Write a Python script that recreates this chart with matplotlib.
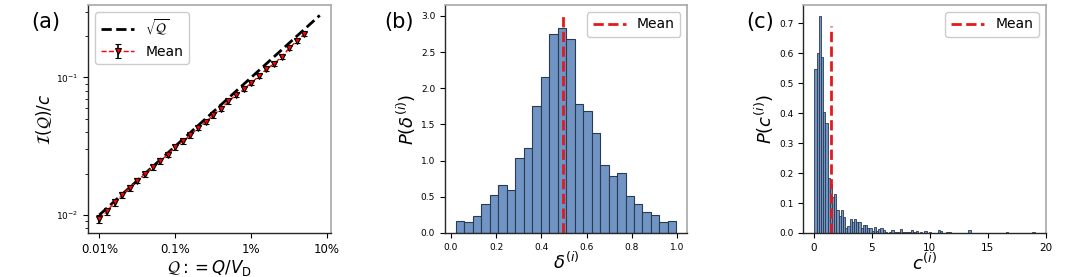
import matplotlib
matplotlib.use("Agg")
import matplotlib.pyplot as plt
import numpy as np

# ---------------- data ----------------
# panel (a)
Q_vals = [1.000e-4, 1.259e-4, 1.585e-4, 1.995e-4, 2.512e-4, 3.162e-4, 3.981e-4,
          5.012e-4, 6.310e-4, 7.943e-4, 1.000e-3, 1.259e-3, 1.585e-3, 1.995e-3,
          2.512e-3, 3.162e-3, 3.981e-3, 5.012e-3, 6.310e-3, 7.943e-3, 1.000e-2,
          1.259e-2, 1.585e-2, 1.995e-2, 2.512e-2, 3.162e-2, 3.981e-2, 5.012e-2]
mean_vals = [0.0094, 0.0106, 0.0124, 0.0139, 0.0158, 0.0178, 0.0198, 0.0222,
             0.0247, 0.0275, 0.0311, 0.0344, 0.0380, 0.0429, 0.0474, 0.0531,
             0.0593, 0.0669, 0.0743, 0.0820, 0.0910, 0.1021, 0.1146, 0.1258,
             0.1411, 0.1627, 0.1845, 0.2071]
err_vals = [0.0006, 0.0006, 0.0007, 0.0007, 0.0008, 0.0008, 0.0009, 0.0010,
            0.0011, 0.0012, 0.0013, 0.0014, 0.0015, 0.0016, 0.0018, 0.0020,
            0.0022, 0.0024, 0.0026, 0.0029, 0.0032, 0.0035, 0.0039, 0.0043,
            0.0048, 0.0053, 0.0059, 0.0066]
sqrt_Q_range = [1e-4, 0.08]
sqrt_Q_line = [0.01, 0.2828]
a_xticks = [1e-4, 1e-3, 1e-2, 1e-1]
a_xticklabels = ["0.01%", "0.1%", "1%", "10%"]

# panel (b): histogram of delta^(i)
b_bin_start = 0.022
b_bin_width = 0.0375
b_heights = [0.17, 0.15, 0.23, 0.40, 0.53, 0.66, 0.60, 1.04, 1.17, 1.75, 2.15,
             2.75, 2.83, 2.68, 1.78, 1.68, 1.38, 0.94, 0.79, 0.83, 0.51, 0.40,
             0.29, 0.25, 0.15, 0.17]
b_mean = 0.497
b_mean_top = 3.0

# panel (c): histogram of c^(i)
c_bin_start = 0.03
c_bin_width = 0.19
c_heights = [0.547, 0.600, 0.725, 0.589, 0.404, 0.366, 0.184, 0.162, 0.120, 0.130,
             0.078, 0.056, 0.075, 0.054, 0.015, 0.022, 0.047, 0.036, 0.047, 0.038,
             0.038, 0.018, 0.025, 0.028, 0.018, 0.018, 0.008, 0.021, 0.005, 0.012,
             0.018, 0.009, 0.004, 0.000, 0.003, 0.011, 0.003, 0.003, 0.004, 0.014,
             0.003, 0.003, 0.003, 0.003, 0.011, 0.003, 0.008, 0.000, 0.003, 0.000,
             0.008, 0.000, 0.003, 0.000, 0.000, 0.000, 0.011, 0.007, 0.000, 0.000,
             0.004, 0.004, 0.000, 0.000, 0.000, 0.000, 0.000, 0.000, 0.000, 0.000,
             0.011, 0.000, 0.000, 0.000, 0.000, 0.000, 0.000, 0.000, 0.000, 0.000,
             0.000, 0.000, 0.000, 0.000, 0.000, 0.000, 0.000, 0.003, 0.000, 0.000,
             0.000, 0.000, 0.000, 0.000, 0.000, 0.000, 0.000, 0.000, 0.000, 0.003]
c_mean = 1.50
c_mean_top = 0.69

# ---------------- style ----------------
plt.rcParams['font.family'] = ['DejaVu Sans']
plt.rcParams['mathtext.fontset'] = 'dejavusans'

fig = plt.figure(figsize=(10.8, 2.77), dpi=100)
W = 0.2245
B = 0.159
H = 0.823
axa = fig.add_axes([0.0818, B, W, H])
axb = fig.add_axes([0.412, B, W, H])
axc = fig.add_axes([0.7438, B, W, H])

bar_face = '#7094c4'
bar_edge = '#2b3a4e'
dark = '#262626'
light = '#a8a8a8'

def style_spines(ax):
    for s in ['left', 'bottom']:
        ax.spines[s].set_color(dark)
        ax.spines[s].set_linewidth(1.0)
    for s in ['top', 'right']:
        ax.spines[s].set_color(light)
        ax.spines[s].set_linewidth(1.2)

# ---- panel (a) ----
axa.plot(sqrt_Q_range, sqrt_Q_line, color='black', ls='--', lw=2.0,
         label=r'$\sqrt{\mathcal{Q}}$', zorder=2)
axa.errorbar(Q_vals, mean_vals, yerr=err_vals, color='red', ls='--', lw=1.0,
             marker='v', markersize=5, markerfacecolor='red',
             markeredgecolor='black', markeredgewidth=0.8,
             ecolor='black', elinewidth=1.2, capsize=2, capthick=1.2,
             label='Mean', zorder=3)
axa.set_xscale('log')
axa.set_yscale('log')
axa.set_xticks(a_xticks)
axa.set_xticklabels(a_xticklabels, fontsize=8.5)
axa.xaxis.set_minor_locator(matplotlib.ticker.NullLocator())
axa.tick_params(axis='y', which='major', labelsize=6.5)
axa.set_xlabel(r'$\mathcal{Q} := Q/V_{\mathrm{D}}$', fontsize=12, labelpad=2)
axa.set_ylabel(r'$\mathcal{I}(\mathcal{Q})/c$', fontsize=12, labelpad=2)
axa.legend(loc='upper left', fontsize=10, handlelength=2.4,
           borderaxespad=0.5, framealpha=1, edgecolor='#cccccc')
style_spines(axa)

# ---- panel (b) ----
b_left = [b_bin_start + i * b_bin_width for i in range(len(b_heights))]
axb.bar(b_left, b_heights, width=b_bin_width, align='edge', color=bar_face,
        edgecolor=bar_edge, linewidth=0.8)
axb.plot([b_mean, b_mean], [0, b_mean_top], color='#e31a1c', ls='--', lw=2.0,
         label='Mean')
axb.set_yticks([0.0, 0.5, 1.0, 1.5, 2.0, 2.5, 3.0])
axb.set_xticks([0.0, 0.2, 0.4, 0.6, 0.8, 1.0])
axb.tick_params(labelsize=6.5)
axb.set_xlabel(r'$\delta^{(i)}$', fontsize=13, labelpad=0)
axb.set_ylabel(r'$P(\delta^{(i)})$', fontsize=13, labelpad=2)
axb.legend(loc='upper right', fontsize=10, handlelength=2.4,
           framealpha=1, edgecolor='#cccccc')
style_spines(axb)

# ---- panel (c) ----
c_left = [c_bin_start + i * c_bin_width for i in range(len(c_heights))]
axc.bar(c_left, c_heights, width=c_bin_width, align='edge', color=bar_face,
        edgecolor=bar_edge, linewidth=0.6)
axc.plot([c_mean, c_mean], [0, c_mean_top], color='#e31a1c', ls='--', lw=2.0,
         label='Mean')
axc.set_yticks([0.0, 0.1, 0.2, 0.3, 0.4, 0.5, 0.6, 0.7])
axc.set_xticks([0, 5, 10, 15, 20])
axc.tick_params(labelsize=6.5)
axc.tick_params(axis='x', labelsize=7.5)
axc.set_xlabel(r'$c^{(i)}$', fontsize=13, labelpad=0)
axc.set_ylabel(r'$P(c^{(i)})$', fontsize=13, labelpad=2)
axc.legend(loc='upper right', fontsize=10, handlelength=2.4,
           framealpha=1, edgecolor='#cccccc')
style_spines(axc)

# panel labels
fig.text(0.029, 0.92, '(a)', fontsize=15, va='center', ha='left')
fig.text(0.356, 0.92, '(b)', fontsize=15, va='center', ha='left')
fig.text(0.691, 0.92, '(c)', fontsize=15, va='center', ha='left')

fig.savefig('out.png', dpi=100)
